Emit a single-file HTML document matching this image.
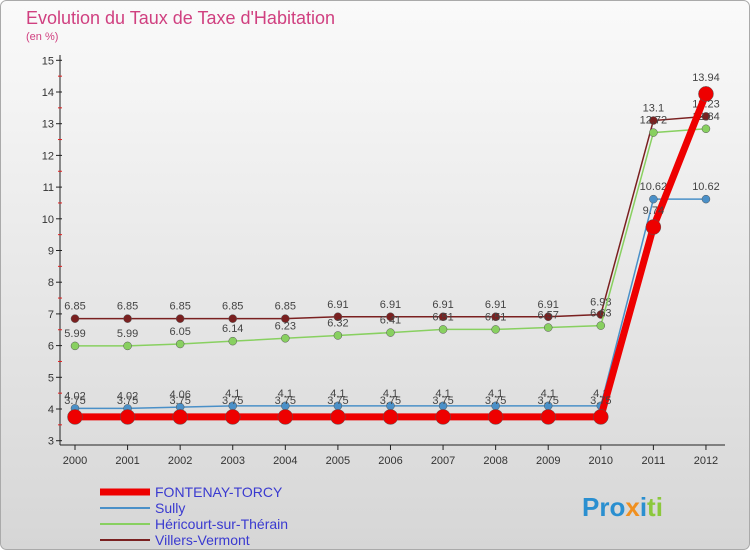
<!DOCTYPE html>
<html><head><meta charset="utf-8"><style>
body{margin:0;width:750px;height:550px;overflow:hidden;font-family:"Liberation Sans",sans-serif}
</style></head><body>
<svg id="c" width="750" height="550" xmlns="http://www.w3.org/2000/svg">
<defs><linearGradient id="bg" x1="0" y1="0" x2="0" y2="1"><stop offset="0" stop-color="#fafafa"/><stop offset="1" stop-color="#d6d6d6"/></linearGradient></defs>
<rect x="0.5" y="0.5" width="749" height="549" rx="6" fill="url(#bg)" stroke="#aaa"/>
<text x="26" y="24" font-size="18" fill="#d04080">Evolution du Taux de Taxe d'Habitation</text>
<text x="26" y="40" font-size="11" fill="#d04080">(en %)</text>
<g id="axes"></g><g id="series"></g><g id="legend"></g>
<text x="582" y="516" font-size="26" font-weight="bold" fill="#2a8fd0">Pro<tspan fill="#f09020">x</tspan>i<tspan fill="#8cc83c">ti</tspan></text>
</svg>
<script>
const years=[2000,2001,2002,2003,2004,2005,2006,2007,2008,2009,2010,2011,2012];
const yTicks=[3,4,5,6,7,8,9,10,11,12,13,14,15];
const fontenay=[3.75,3.75,3.75,3.75,3.75,3.75,3.75,3.75,3.75,3.75,3.75,9.74,13.94];
const sully=[4.02,4.02,4.06,4.1,4.1,4.1,4.1,4.1,4.1,4.1,4.1,10.62,10.62];
const hericourt=[5.99,5.99,6.05,6.14,6.23,6.32,6.41,6.51,6.51,6.57,6.63,12.72,12.84];
const villers=[6.85,6.85,6.85,6.85,6.85,6.91,6.91,6.91,6.91,6.91,6.98,13.1,13.23];
const NS="http://www.w3.org/2000/svg";
const X=i=>75+i*52.58, Y=v=>409-(v-4)*31.7;
function mk(p,t,a){const e=document.createElementNS(NS,t);for(const k in a)e.setAttribute(k,a[k]);p.appendChild(e);return e;}
const ax=document.getElementById('axes');
let l=mk(ax,'line',{x1:60,y1:55,x2:60,y2:445,stroke:'#222'});


l=mk(ax,'line',{x1:60,y1:445,x2:725,y2:445,stroke:'#222'});


yTicks.forEach(v=>{
 mk(ax,'line',{x1:56,y1:Y(v),x2:62,y2:Y(v),stroke:'#222'});
 if(v<15)mk(ax,'line',{x1:58,y1:Y(v+0.5),x2:62,y2:Y(v+0.5),stroke:'#e02020'});
 const t=mk(ax,'text',{x:54,y:Y(v)+4,'font-size':11,'text-anchor':'end',fill:'#333'});t.textContent=v;
 
 
});
years.forEach((y,i)=>{
 mk(ax,'line',{x1:X(i),y1:445,x2:X(i),y2:450,stroke:'#222'});
 const t=mk(ax,'text',{x:X(i),y:464,'font-size':11,'text-anchor':'middle',fill:'#333'});t.textContent=y;
 
 
});
const sg=document.getElementById('series');
const defs=[
 {d:villers,c:'#7a2020',w:1.5,r:4,n:'villers-vermont'},
 {d:hericourt,c:'#88d060',w:1.5,r:4,n:'hericourt-sur-therain'},
 {d:sully,c:'#4a90c8',w:1.5,r:4,n:'sully'},
 {d:fontenay,c:'#ee0000',w:7,r:7.5,n:'fontenay-torcy'}];
defs.forEach(s=>{
 const g=mk(sg,'g',{});
 
 
 const p=mk(g,'polyline',{points:s.d.map((v,i)=>X(i)+','+Y(v)).join(' '),fill:'none',stroke:s.c,'stroke-width':s.w});
 
 
 s.d.forEach((v,i)=>{
  const c=mk(g,'circle',{cx:X(i),cy:Y(v),r:s.r,fill:s.c,stroke:'#555','stroke-width':0.5});
  
  
  const t=mk(g,'text',{x:X(i),y:Y(v)-9-(s.r>5?4:0),'font-size':11,'text-anchor':'middle',fill:'#444'});
  t.textContent=v;
  
  
 });
});
const lg=document.getElementById('legend');
[['FONTENAY-TORCY','#ee0000',7],['Sully','#4a90c8',2],['Héricourt-sur-Thérain','#88d060',2],['Villers-Vermont','#7a2020',2]].forEach((e,i)=>{
 const y=492+i*16;
 const g=mk(lg,'g',{});
 
 
 mk(g,'line',{x1:100,y1:y,x2:150,y2:y,stroke:e[1],'stroke-width':e[2]});
 const t=mk(g,'text',{x:155,y:y+5,'font-size':14,fill:'#3a3ad0'});t.textContent=e[0];
});
</script>
</body></html>
